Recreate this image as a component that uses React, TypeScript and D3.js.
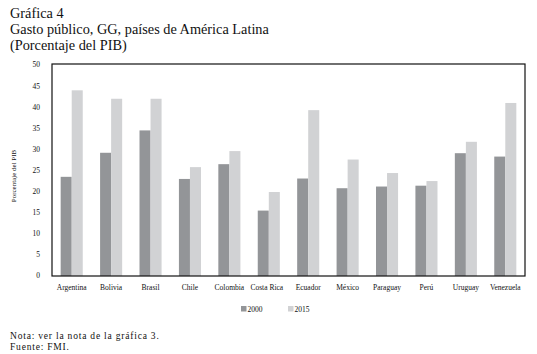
import * as d3 from "d3";

const paises = [
  "Argentina",
  "Bolivia",
  "Brasil",
  "Chile",
  "Colombia",
  "Costa Rica",
  "Ecuador",
  "México",
  "Paraguay",
  "Perú",
  "Uruguay",
  "Venezuela",
];
const series = ["2000", "2015"];
const valores2000 = [23.5, 29.2, 34.5, 23.0, 26.5, 15.5, 23.1, 20.8, 21.2, 21.4, 29.1, 28.3];
const valores2015 = [44.0, 42.0, 42.0, 25.8, 29.6, 19.9, 39.3, 27.6, 24.4, 22.5, 31.8, 41.0];
const yTicks = [0, 5, 10, 15, 20, 25, 30, 35, 40, 45, 50];
const colores = ["#939598", "#d1d2d4"];

const serif = "'Liberation Serif', 'Times New Roman', serif";

export default function App() {
  const width = 537;
  const height = 354;
  const margin = { top: 64, right: 12, bottom: 78, left: 52 };
  const plotRight = width - margin.right;
  const plotBottom = height - margin.bottom;

  // eje de categorías
  const x0 = d3
    .scaleBand<string>()
    .domain(paises)
    .range([margin.left, plotRight])
    .paddingInner(0.44)
    .paddingOuter(0.22);

  // eje de series dentro de cada país
  const x1 = d3.scaleBand<string>().domain(series).range([0, x0.bandwidth()]);

  const y = d3.scaleLinear().domain([0, 50]).range([plotBottom, margin.top + 1]);

  return (
    <svg
      width={width}
      height={height}
      style={{ position: "absolute", left: 0, top: 0, background: "#fff" }}
      fontFamily={serif}
    >
      {/* título */}
      <text x={10} y={17.5} fontSize={14.3} fill="#111">
        Gráfica 4
      </text>
      <text x={10} y={33.5} fontSize={14.3} fill="#111">
        Gasto público, GG, países de América Latina
      </text>
      <text x={10} y={50} fontSize={14.3} fill="#111">
        (Porcentaje del PIB)
      </text>

      {/* etiquetas eje y */}
      {yTicks.map((t) => (
        <text
          key={t}
          x={40}
          y={y(t)}
          dy="0.32em"
          textAnchor="end"
          fontSize={7.5}
          fill="#111"
        >
          {t}
        </text>
      ))}
      <text
        transform={`translate(14,176) rotate(-90)`}
        textAnchor="middle"
        dy="0.32em"
        fontSize={7}
        fill="#111"
      >
        Porcentaje del PIB
      </text>

      {/* barras */}
      {paises.map((p, i) => (
        <g key={p} transform={`translate(${x0(p)},0)`}>
          {[valores2000[i], valores2015[i]].map((v, j) => (
            <rect
              key={series[j]}
              x={x1(series[j])}
              y={y(v)}
              width={x1.bandwidth()}
              height={y(0) - y(v)}
              fill={colores[j]}
            />
          ))}
        </g>
      ))}

      {/* marco */}
      <rect
        x={margin.left}
        y={margin.top}
        width={plotRight - margin.left}
        height={plotBottom - margin.top}
        fill="none"
        stroke="#111"
        strokeWidth={1.2}
      />

      {/* etiquetas eje x */}
      {paises.map((p) => (
        <text
          key={p}
          x={(x0(p) ?? 0) + x0.bandwidth() / 2 - (p === "Costa Rica" ? 2 : 0)}
          y={290}
          textAnchor="middle"
          fontSize={7.5}
          fill="#111"
        >
          {p}
        </text>
      ))}

      {/* leyenda */}
      {series.map((s, j) => (
        <g key={s} transform={`translate(${241 + j * 47},306)`}>
          <rect width={5.5} height={5.5} fill={colores[j]} />
          <text x={6.5} y={5.5} fontSize={7.5} fill="#111">
            {s}
          </text>
        </g>
      ))}

      {/* notas */}
      <text x={10} y={338.5} fontSize={9.5} letterSpacing={0.8} fill="#111">
        Nota: ver la nota de la gráfica 3.
      </text>
      <text x={10} y={350} fontSize={9.5} letterSpacing={0.8} fill="#111">
        Fuente: FMI.
      </text>
    </svg>
  );
}
